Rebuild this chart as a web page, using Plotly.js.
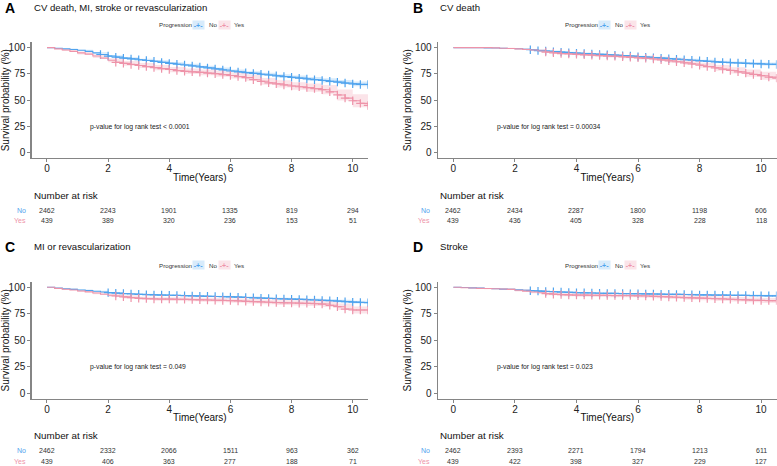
<!DOCTYPE html>
<html>
<head>
<meta charset="utf-8">
<script src="https://cdn.plot.ly/plotly-3.0.1.min.js"></script>
<style>html,body{margin:0;padding:0;background:#fff;}#chart{width:777px;height:466px;}</style>
</head>
<body>
<div id="chart"></div>
<script>
// ---------- data ----------
const timeYears = [0,0.25,0.5,0.75,1,1.25,1.5,1.75,2,2.25,2.5,2.75,3,3.25,3.5,3.75,4,4.25,4.5,4.75,5,5.25,5.5,5.75,6,6.25,6.5,6.75,7,7.25,7.5,7.75,8,8.25,8.5,8.75,9,9.25,9.5,9.75,10,10.25,10.5];
const bandTimes = [0,0.5,1,1.5,2,2.5,3,3.5,4,4.5,5,5.5,6,6.5,7,7.5,8,8.5,9,9.5,10,10.5];

const survA_No  = [100,99.3,98.8,98.2,97.5,96.5,95,93.5,92,91,90,89.3,88.5,87.8,87,86,85,84.2,83.5,82.6,81.7,80.8,79.8,78.8,77.8,77,76.2,75.5,74.7,74,73.2,72.5,71.8,71,70.2,69.5,68.8,68,67.2,66.3,65.5,65,65];
const survA_Yes = [100,98.8,97.8,96.5,95,93.8,92,90,88,86,85,84,83,82,81,80,79.2,78.2,77.5,77,76.5,75.8,75.2,74.3,73.5,72.5,71.5,69.5,68,66.5,65.5,64.5,63.5,62.8,62,61,60,58,55,52,49.5,47,45];
const survB_No  = [100,100,100,99.9,99.8,99.7,99.5,99.2,99,98.5,98,97.2,96.8,96.2,95.7,95.2,94.8,94.4,94,93.6,93.2,92.8,92.4,92,91.5,91,90.5,90,89.5,89,88.5,88,87.5,87,86.5,86,85.7,85.4,85.1,84.8,84.5,84.2,84];
const survB_Yes = [100,100,100,100,100,99.8,99.5,99.2,98.8,98.3,97.7,96.8,95.8,95,94.4,94,93.6,93.2,92.8,92.4,92,91.7,91.3,90.8,90.3,89.8,89.2,88.4,87.5,86.6,85.6,84.5,83.3,82,80.8,79.5,78.3,77,75.8,74.5,73.3,72,71];
const survC_No  = [100,99.2,98.6,98,97.5,97,96.3,95.6,95,94.5,94.1,93.7,93.4,93.1,92.9,92.7,92.5,92.3,92.1,91.9,91.7,91.5,91.3,91.2,91,90.7,90.4,90.1,89.8,89.5,89.2,89,88.8,88.6,88.3,88,87.7,87.3,87,86.5,86,85.7,85.5];
const survC_Yes = [100,99,98.2,97.4,96.5,95.7,94.6,93.5,92.5,91.8,91,90.2,89.6,89.3,89,88.9,88.8,88.7,88.6,88.4,88.2,88,87.8,87.6,87.4,87.1,86.8,86.5,86.2,85.9,85.6,85.4,85.2,85,84.8,84.5,84.2,83,81.7,79.5,78.6,78.6,78.6];
const survD_No  = [100,99.8,99.5,99.2,98.9,98.6,98.3,98,97.6,97.2,96.8,96.4,96.1,95.8,95.5,95.2,95,94.8,94.6,94.4,94.3,94.2,94.1,94,93.9,93.8,93.7,93.5,93.4,93.3,93.2,93,92.9,92.8,92.7,92.6,92.5,92.4,92.3,92.2,92.1,92,92];
const survD_Yes = [100,99.6,99.3,99,98.8,98.6,98.4,98,97.2,96.4,95.6,94.8,94,93.5,93.1,92.8,92.7,92.6,92.5,92.4,92.3,92.2,92.2,92.1,92,91.8,91.5,91.2,90.9,90.6,90.3,90,89.8,89.5,89.2,89,88.7,88.4,88.1,87.8,87.6,87.4,87.4];

const ciA_No  = [0,0.4,0.6,0.7,0.8,0.9,1,1,1.1,1.1,1.2,1.2,1.3,1.4,1.5,1.6,1.7,1.8,2,2.1,2.3,2.5];
const ciA_Yes = [0,1,1.4,1.8,2,2.2,2.3,2.4,2.5,2.6,2.7,2.8,2.9,3,3.2,3.4,3.6,3.9,4.4,5.2,6.2,7.5];
const ciB_No  = [0,0,0.1,0.2,0.3,0.4,0.5,0.5,0.6,0.6,0.7,0.7,0.8,0.8,0.9,0.9,1,1.1,1.2,1.3,1.4,1.5];
const ciB_Yes = [0,0,0,0.3,0.6,0.8,1,1.1,1.2,1.3,1.4,1.5,1.6,1.8,2,2.2,2.4,2.7,3,3.4,3.8,4.3];
const ciC_No  = [0,0.3,0.4,0.5,0.6,0.6,0.6,0.7,0.7,0.7,0.8,0.8,0.8,0.9,0.9,1,1,1.1,1.2,1.3,1.4,1.5];
const ciC_Yes = [0,0.7,1,1.2,1.4,1.5,1.6,1.7,1.7,1.8,1.9,2,2,2.1,2.2,2.3,2.4,2.5,2.7,3,3.4,3.8];
const ciD_No  = [0,0.1,0.2,0.3,0.4,0.5,0.5,0.5,0.6,0.6,0.6,0.6,0.7,0.7,0.7,0.7,0.8,0.8,0.8,0.9,0.9,1];
const ciD_Yes = [0,0.4,0.6,0.9,1.1,1.3,1.4,1.5,1.5,1.6,1.6,1.7,1.8,1.8,1.9,2,2,2.1,2.2,2.3,2.4,2.5];

const censorStartNo  = [1.75, 2.5, 2, 2.5];
const censorStartYes = [2.25, 3, 2.25, 3];

const riskTimes = [0,2,4,6,8,10];
const riskA_No = [2462,2243,1901,1335,819,294];
const riskA_Yes = [439,389,320,236,153,51];
const riskB_No = [2462,2434,2287,1800,1198,606];
const riskB_Yes = [439,436,405,328,228,118];
const riskC_No = [2462,2332,2066,1511,963,362];
const riskC_Yes = [439,406,363,277,188,71];
const riskD_No = [2462,2393,2271,1794,1213,611];
const riskD_Yes = [439,422,398,327,229,127];

const panelLetters = ["A","B","C","D"];
const panelTitles = ["CV death, MI, stroke or revascularization","CV death","MI or revascularization","Stroke"];
const pValueTexts = ["p-value for log rank test < 0.0001","p-value for log rank test = 0.00034","p-value for log rank test = 0.049","p-value for log rank test = 0.023"];
const groupNames = ["No","Yes"];
const yTicks = [0,25,50,75,100];
const xTicks = [0,2,4,6,8,10];

// ---------- styling ----------
const FONT = "Arial, 'Liberation Sans', sans-serif";
const BLUE = "#4FA3EE", PINK = "#EE93A9";
const BLUE_F = "rgba(79,163,238,0.22)", PINK_F = "rgba(238,147,169,0.25)";
const AX = "#858585";

const panels = [
  {s:[survA_No,survA_Yes], ci:[ciA_No,ciA_Yes], risk:[riskA_No,riskA_Yes]},
  {s:[survB_No,survB_Yes], ci:[ciB_No,ciB_Yes], risk:[riskB_No,riskB_Yes]},
  {s:[survC_No,survC_Yes], ci:[ciC_No,ciC_Yes], risk:[riskC_No,riskC_Yes]},
  {s:[survD_No,survD_Yes], ci:[ciD_No,ciD_Yes], risk:[riskD_No,riskD_Yes]}
];

// geometry (pixels)
const W = 777, H = 466;
const px = v => v / W, py = v => 1 - v / H;
const colX = [{l:31.7, r:368, lab:27.5, letter:3, title:31.7, leg:157},
              {l:438, r:776.5, lab:432, letter:411, title:438.3, leg:563.3}];
const rowY = [{t:42.4, b:158, letter:7.5, leg:25, nar:195, no:210, yes:220.7},
              {t:282, b:398.6, letter:246.7, leg:265, nar:435, no:450.3, yes:461}];

const traces = [];
const annotations = [];
const layout = {
  width: W, height: H, margin:{l:0,r:0,t:0,b:0},
  paper_bgcolor:"#fff", plot_bgcolor:"#fff", showlegend:false,
  font:{family:FONT, color:"#222"}, annotations: annotations
};

panels.forEach((p, k) => {
  const col = colX[k % 2], row = rowY[Math.floor(k / 2)];
  const sfx = k === 0 ? "" : String(k + 1);
  const xa = "x" + sfx, ya = "y" + sfx;
  const cols = [BLUE, PINK], fills = [BLUE_F, PINK_F];
  const starts = [censorStartNo[k], censorStartYes[k]];

  [0,1].forEach(g => {
    const s = p.s[g], ci = p.ci[g];
    const up = bandTimes.map((t,i) => Math.min(100, s[i*2] + ci[i]));
    const lo = bandTimes.map((t,i) => s[i*2] - ci[i]);
    traces.push({x:bandTimes, y:up, xaxis:xa, yaxis:ya, mode:"lines", line:{width:0, shape:"hv"}, hoverinfo:"skip"});
    traces.push({x:bandTimes, y:lo, xaxis:xa, yaxis:ya, mode:"lines", line:{width:0, shape:"hv"}, fill:"tonexty", fillcolor:fills[g], hoverinfo:"skip"});
  });
  [0,1].forEach(g => {
    const s = p.s[g];
    traces.push({x:timeYears, y:s, xaxis:xa, yaxis:ya, mode:"lines", name:groupNames[g], line:{color:cols[g], width:1.1, shape:"hv"}});
    const mx = [], my = [];
    timeYears.forEach((t,i) => { if (t >= starts[g]) { mx.push(t); my.push(s[i]); } });
    traces.push({x:mx, y:my, xaxis:xa, yaxis:ya, mode:"markers", marker:{symbol:"cross-thin", size:6, line:{color:cols[g], width:1.2}}, hoverinfo:"skip"});
  });

  layout["xaxis" + sfx] = {
    domain:[px(col.l), px(col.r)], anchor:ya, range:[-0.5,10.5],
    tickvals:xTicks, ticks:"outside", ticklen:3, tickcolor:AX, tickwidth:1,
    showline:true, linecolor:AX, linewidth:1.4, showgrid:false, zeroline:false,
    ticklabelstandoff:-2,
    tickfont:{size:10, color:"#222", family:FONT},
    title:{text:"Time(Years)", font:{size:10, color:"#111", family:FONT}, standoff:0}
  };
  layout["yaxis" + sfx] = {
    domain:[py(row.b), py(row.t)], anchor:xa, range:[-5,105],
    tickvals:yTicks, ticks:"outside", ticklen:3, tickcolor:AX, tickwidth:1,
    showline:true, linecolor:AX, linewidth:1.4, showgrid:false, zeroline:false,
    tickfont:{size:10, color:"#222", family:FONT},
    title:{text:"Survival probability (%)", font:{size:10, color:"#111", family:FONT}, standoff:1}
  };

  // panel letter + title
  annotations.push({xref:"paper", yref:"paper", x:px(col.letter), y:py(row.letter), xanchor:"left", yanchor:"middle", showarrow:false,
    text:"<b>" + panelLetters[k] + "</b>", font:{size:14, color:"#000", family:FONT}});
  annotations.push({xref:"paper", yref:"paper", x:px(col.title), y:py(row.letter), xanchor:"left", yanchor:"middle", showarrow:false,
    text:panelTitles[k], font:{size:9.6, color:"#111", family:FONT}});

  // legend
  const ly = py(row.leg);
  annotations.push({xref:"paper", yref:"paper", x:px(col.leg), y:ly, xanchor:"left", yanchor:"middle", showarrow:false,
    text:"Progression", font:{size:6.2, color:"#333", family:FONT}});
  [[41, BLUE, BLUE_F, 50, "No"], [67, PINK, PINK_F, 75, "Yes"]].forEach(([bx, c, f, tx, lab]) => {
    annotations.push({xref:"paper", yref:"paper", x:px(col.leg + bx), y:ly, xanchor:"center", yanchor:"middle", showarrow:false,
      text:"<b>-+-</b>", width:11, height:8, bgcolor:f, borderpad:0, font:{size:7, color:c, family:FONT}});
    annotations.push({xref:"paper", yref:"paper", x:px(col.leg + tx), y:ly, xanchor:"left", yanchor:"middle", showarrow:false,
      text:lab, font:{size:6.2, color:"#333", family:FONT}});
  });

  // p-value
  annotations.push({xref:xa, yref:ya, x:1.35, y:24.5, xanchor:"left", yanchor:"middle", showarrow:false,
    text:pValueTexts[k], font:{size:6.8, color:"#222", family:FONT}});

  // number at risk
  annotations.push({xref:"paper", yref:"paper", x:px(col.l), y:py(row.nar), xanchor:"left", yanchor:"middle", showarrow:false,
    text:"Number at risk", font:{size:9.8, color:"#111", family:FONT}});
  [[row.no, BLUE, p.risk[0], "No"], [row.yes, PINK, p.risk[1], "Yes"]].forEach(([yy, c, arr, lab]) => {
    annotations.push({xref:"paper", yref:"paper", x:px(col.lab), y:py(yy), xanchor:"right", yanchor:"middle", showarrow:false,
      text:lab, font:{size:7, color:c, family:FONT}});
    arr.forEach((v, i) => {
      annotations.push({xref:xa, yref:"paper", x:riskTimes[i], y:py(yy), xanchor:"center", yanchor:"middle", showarrow:false,
        text:String(v), font:{size:7, color:"#333", family:FONT}});
    });
  });
});

Plotly.newPlot("chart", traces, layout, {staticPlot:true, displayModeBar:false});
</script>
</body>
</html>
